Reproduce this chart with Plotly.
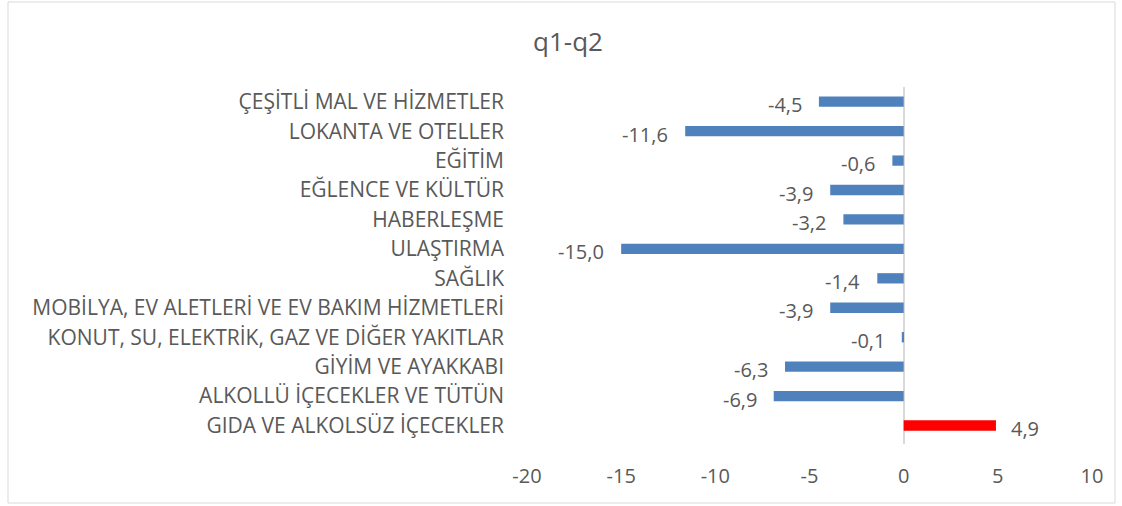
import plotly.graph_objects as go

categories = [
    "GIDA VE ALKOLSÜZ İÇECEKLER",
    "ALKOLLÜ İÇECEKLER VE TÜTÜN",
    "GİYİM VE AYAKKABI",
    "KONUT, SU, ELEKTRİK, GAZ VE DİĞER YAKITLAR",
    "MOBİLYA, EV ALETLERİ VE EV BAKIM HİZMETLERİ",
    "SAĞLIK",
    "ULAŞTIRMA",
    "HABERLEŞME",
    "EĞLENCE VE KÜLTÜR",
    "EĞİTİM",
    "LOKANTA VE OTELLER",
    "ÇEŞİTLİ MAL VE HİZMETLER",
]
values = [4.9, -6.9, -6.3, -0.1, -3.9, -1.4, -15.0, -3.2, -3.9, -0.6, -11.6, -4.5]
x_ticks = [-20, -15, -10, -5, 0, 5, 10]
title_text = "q1-q2"

colors = ["#FF0000" if v > 0 else "#4F81BD" for v in values]
FONT = "Open Sans"
TXT = "#595959"

fig = go.Figure()
fig.add_trace(go.Bar(
    x=values, y=categories, orientation="h",
    marker=dict(color=colors, line=dict(width=0)),
    width=0.35, hoverinfo="x+y",
))

for c, v in zip(categories, values):
    fig.add_annotation(
        x=v, y=c, xref="x", yref="y",
        text=f"{v:.1f}".replace(".", ","),
        showarrow=False,
        xanchor="right" if v < 0 else "left",
        xshift=-15 if v < 0 else 13,
        yshift=-3,
        font=dict(family=FONT, size=20, color=TXT),
    )

L, R, T, B = 527, 30, 87, 62
W, H = 1122, 506
pw, ph = W - L - R, H - T - B
fig.add_shape(
    type="rect", xref="paper", yref="paper",
    x0=(8 - L) / pw, x1=(1115 - L) / pw,
    y0=-(B - 3) / ph, y1=1 + (T - 2) / ph,
    line=dict(color="#D9D9D9", width=1), fillcolor="rgba(0,0,0,0)", layer="below",
)

fig.update_layout(
    width=W, height=H,
    margin=dict(l=L, r=R, t=T, b=B),
    paper_bgcolor="white", plot_bgcolor="white",
    showlegend=False,
    title=dict(text=title_text, x=568 / W, xanchor="center", y=1 - 42 / H, yanchor="middle",
               font=dict(family=FONT, size=26, color=TXT)),
    xaxis=dict(range=[-20, 10], tickvals=x_ticks, ticktext=[str(t) for t in x_ticks],
               showgrid=False, zeroline=True, zerolinecolor="#D9D9D9", zerolinewidth=1.5,
               showline=False, ticks="", ticklabelstandoff=18,
               tickfont=dict(family=FONT, size=20, color=TXT), fixedrange=True),
    yaxis=dict(categoryorder="array", categoryarray=categories, showgrid=False,
               zeroline=False, showline=False, ticks="", ticklabelstandoff=22,
               tickfont=dict(family=FONT, size=21, color=TXT), fixedrange=True),
    bargap=0.65,
)

fig.write_html("out.html", config={"displayModeBar": False},
               post_script="document.body.style.margin='0';")
